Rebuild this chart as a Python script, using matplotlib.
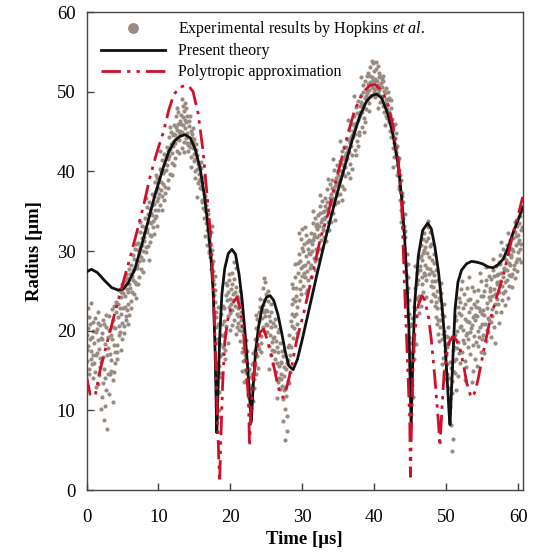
import numpy as np
import matplotlib
matplotlib.use("Agg")
import matplotlib.pyplot as plt

plt.rcParams['font.family'] = ['Liberation Serif', 'DejaVu Serif']
plt.rcParams['mathtext.fontset'] = 'custom'
plt.rcParams['mathtext.rm'] = 'Liberation Serif'
plt.rcParams['mathtext.it'] = 'Liberation Serif:italic'

########### data ###########

# present theory (black)
theory_t = [0.0, 0.7, 1.5, 2.5, 3.5, 4.4, 5.1, 5.8, 6.7, 7.5, 8.4, 9.5, 10.7, 11.5, 12.3,
            13.0, 13.7, 14.4, 15.1, 15.8, 16.4, 16.9, 17.3, 17.6, 17.85, 18.0, 18.1, 18.25,
            18.5, 18.8, 19.2, 19.7, 20.2, 20.7, 21.2, 21.6, 22.0, 22.3, 22.6, 22.9, 23.15,
            23.5, 23.9, 24.4, 25.0, 25.5, 26.0, 26.6, 27.1, 27.6, 28.1, 28.7, 29.3, 30.0,
            31.0, 32.0, 33.0, 34.0, 35.0, 36.0, 37.0, 38.0, 38.9, 39.6, 40.3, 41.0, 41.9,
            42.6, 43.3, 43.8, 44.2, 44.5, 44.8, 45.1, 45.35, 45.6, 46.1, 46.7, 47.4, 47.9,
            48.4, 48.9, 49.4, 49.8, 50.1, 50.35, 50.5, 50.75, 51.2, 51.6, 52.1, 52.8, 53.5,
            54.2, 55.0, 55.8, 56.5, 57.2, 57.9, 58.6, 59.3, 60.0, 60.6]
theory_r = [27.4, 27.7, 27.3, 26.3, 25.4, 25.1, 25.2, 26.0, 27.7, 30.2, 33.2, 37.0, 40.6, 42.6, 43.9,
            44.4, 44.6, 44.2, 42.8, 40.3, 36.8, 33.0, 29.0, 24.8, 18.0, 11.5, 7.2, 12.0,
            19.0, 24.5, 27.8, 29.7, 30.2, 29.6, 27.0, 24.0, 20.0, 16.5, 12.5, 8.6, 13.0,
            17.5, 20.5, 22.9, 24.2, 24.4, 23.8, 22.0, 19.8, 17.4, 15.6, 15.1, 16.4, 19.0,
            23.0, 27.0, 30.8, 34.4, 37.8, 41.0, 44.2, 47.0, 48.8, 49.5, 49.7, 49.2, 47.1,
            44.5, 40.8, 36.5, 31.5, 26.5, 20.0, 8.0, 17.0, 23.5, 29.4, 32.6, 33.5, 32.8,
            30.5, 27.4, 23.0, 18.5, 14.0, 10.0, 8.2, 13.5, 22.7, 26.1, 27.6, 28.4, 28.7,
            28.6, 28.4, 28.0, 27.9, 28.3, 29.0, 30.5, 32.4, 34.0, 35.5]

# polytropic approximation (red)
poly_t = [0.0, 0.5, 1.2, 1.9, 2.8, 3.7, 4.4, 5.1, 6.0, 7.0, 8.0, 8.8, 9.75, 10.7, 11.4,
          12.1, 12.9, 13.7, 14.3, 14.8, 15.5, 16.2, 16.7, 17.2, 17.5, 17.8, 18.1, 18.35,
          18.5, 18.65, 18.9, 19.2, 19.6, 20.2, 20.9, 21.4, 21.8, 22.2, 22.5, 22.65, 22.85,
          23.1, 23.4, 23.8, 24.1, 24.6, 25.1, 25.7, 26.2, 26.6, 27.0, 27.3, 27.8, 28.5,
          29.2, 30.3, 31.5, 32.5, 33.6, 34.5, 35.5, 36.4, 37.2, 38.0, 38.7, 39.4, 40.1,
          40.8, 41.4, 41.9, 42.6, 43.3, 43.8, 44.2, 44.6, 44.9, 45.0, 45.15, 45.35, 45.6,
          46.1, 46.6, 47.0, 47.5, 47.9, 48.4, 48.9, 49.1, 49.4, 49.7, 50.0, 50.4, 50.9,
          51.4, 51.9, 52.4, 52.8, 53.3, 53.6, 54.0, 54.4, 55.2, 56.0, 56.9, 57.9, 58.6,
          59.3, 60.0, 60.6]
poly_r = [14.3, 12.0, 11.8, 15.1, 18.3, 21.4, 23.8, 26.1, 29.0, 32.4, 36.0, 39.2, 42.3, 45.0, 47.6,
          49.6, 50.5, 50.8, 50.6, 50.0, 47.3, 42.5, 37.5, 32.4, 27.5, 20.6, 12.0, 4.5,
          1.0, 6.0, 13.0, 18.5, 21.3, 23.3, 24.2, 22.6, 19.8, 15.5, 11.3, 5.5, 10.0,
          13.5, 15.5, 18.3, 19.8, 20.2, 18.9, 16.8, 14.8, 13.0, 12.0, 11.6, 12.8, 15.5,
          18.8, 22.7, 27.5, 31.6, 34.8, 38.3, 41.8, 45.0, 47.5, 49.2, 50.2, 50.8, 50.9,
          50.3, 49.4, 48.3, 45.6, 41.6, 35.5, 25.2, 16.0, 9.0, 1.7, 8.0, 15.0, 19.8,
          23.2, 24.4, 23.8, 21.8, 18.9, 14.0, 8.4, 5.5, 10.5, 15.0, 16.8, 18.6, 19.3,
          18.8, 17.7, 15.6, 13.5, 12.0, 11.6, 12.4, 13.9, 17.6, 21.1, 24.0, 26.9, 29.6,
          32.4, 34.6, 36.8]

# experimental results by Hopkins et al. (grey dots)
exp_time = [
    0.04, 0.11, 0.18, 0.27, 0.35, 0.46, 0.58, 0.66, 0.79, 0.92,
    0.08, 0.22, 0.31, 0.41, 0.53, 0.62, 0.71, 0.84, 0.88, 0.97,
    1.03, 1.14, 1.22, 1.36, 1.44, 1.57, 1.65, 1.78, 1.86, 1.95,
    1.09, 1.27, 1.48, 1.61, 1.72, 1.90, 1.31, 1.53, 1.82, 1.99,
    2.05, 2.13, 2.24, 2.32, 2.47, 2.55, 2.68, 2.76, 2.87, 2.96,
    2.09, 2.28, 2.41, 2.61, 2.72, 2.93, 2.37, 2.82, 2.18, 2.52,
    3.04, 3.15, 3.23, 3.38, 3.46, 3.59, 3.67, 3.74, 3.88, 3.97,
    3.10, 3.29, 3.51, 3.63, 3.81, 3.93, 3.44, 3.19, 3.70, 3.85,
    4.02, 4.13, 4.26, 4.34, 4.45, 4.57, 4.63, 4.76, 4.85, 4.96,
    4.08, 4.20, 4.39, 4.51, 4.69, 4.81, 4.91, 4.30, 4.73, 4.98,
    5.05, 5.12, 5.24, 5.36, 5.43, 5.55, 5.68, 5.74, 5.87, 5.94,
    5.09, 5.29, 5.48, 5.61, 5.79, 5.91, 5.18, 5.40, 5.66, 5.83,
    6.03, 6.15, 6.22, 6.37, 6.44, 6.56, 6.63, 6.78, 6.86, 6.95,
    6.09, 6.30, 6.49, 6.70, 6.90, 6.19, 6.58, 6.82, 6.41, 6.99,
    7.04, 7.16, 7.25, 7.33, 7.47, 7.54, 7.69, 7.77, 7.84, 7.93,
    7.10, 7.29, 7.40, 7.61, 7.72, 7.89, 7.20, 7.50, 7.81, 7.97,
    8.05, 8.14, 8.27, 8.35, 8.42, 8.58, 8.66, 8.73, 8.88, 8.96,
    8.09, 8.21, 8.47, 8.52, 8.79, 8.92, 8.31, 8.62, 8.84, 8.99,
    9.03, 9.12, 9.26, 9.38, 9.45, 9.57, 9.64, 9.76, 9.83, 9.94,
    9.08, 9.19, 9.33, 9.51, 9.70, 9.88, 9.41, 9.61, 9.80, 9.98,
    10.04, 10.15, 10.23, 10.34, 10.46, 10.55, 10.67, 10.75, 10.86, 10.95,
    10.09, 10.28, 10.40, 10.61, 10.80, 10.91, 10.18, 10.50, 10.71, 10.99,
    11.03, 11.14, 11.26, 11.35, 11.44, 11.56, 11.65, 11.77, 11.85, 11.96,
    11.08, 11.21, 11.39, 11.51, 11.70, 11.90, 11.30, 11.60, 11.81, 11.99,
    12.05, 12.13, 12.24, 12.36, 12.43, 12.57, 12.64, 12.76, 12.87, 12.94,
    12.09, 12.29, 12.48, 12.61, 12.70, 12.83, 12.19, 12.52, 12.79, 12.98,
    13.04, 13.15, 13.22, 13.37, 13.45, 13.56, 13.63, 13.74, 13.88, 13.95,
    13.09, 13.28, 13.41, 13.51, 13.68, 13.82, 13.31, 13.60, 13.79, 13.99,
    14.03, 14.14, 14.26, 14.35, 14.47, 14.55, 14.66, 14.77, 14.84, 14.96,
    14.08, 14.21, 14.40, 14.60, 14.72, 14.90, 14.31, 14.51, 14.81, 14.99,
    15.05, 15.13, 15.24, 15.37, 15.44, 15.56, 15.65, 15.76, 15.87, 15.95,
    15.09, 15.29, 15.48, 15.60, 15.70, 15.82, 15.19, 15.40, 15.91, 15.99,
    16.04, 16.15, 16.23, 16.34, 16.46, 16.55, 16.67, 16.74, 16.86, 16.95,
    16.09, 16.28, 16.40, 16.60, 16.79, 16.91, 16.19, 16.51, 16.70, 16.99,
    17.03, 17.14, 17.25, 17.36, 17.43, 17.55, 17.64, 17.77, 17.85, 17.96,
    17.08, 17.20, 17.31, 17.48, 17.60, 17.70, 17.81, 17.90, 17.40, 17.99,
    18.04, 18.13, 18.22, 18.35, 18.46, 18.54, 18.66, 18.75, 18.84, 18.95,
    18.08, 18.27, 18.40, 18.59, 18.70, 18.90, 18.18, 18.31, 18.50, 18.80,
    19.05, 19.12, 19.24, 19.35, 19.43, 19.57, 19.64, 19.75, 19.86, 19.94,
    19.09, 19.28, 19.48, 19.60, 19.71, 19.90, 19.18, 19.39, 19.81, 19.99,
    20.04, 20.15, 20.23, 20.36, 20.44, 20.56, 20.65, 20.74, 20.87, 20.96,
    20.09, 20.28, 20.49, 20.61, 20.79, 20.91, 20.19, 20.40, 20.70, 20.99,
    21.03, 21.14, 21.26, 21.35, 21.45, 21.56, 21.64, 21.75, 21.84, 21.95,
    21.08, 21.21, 21.40, 21.51, 21.69, 21.80, 21.90, 21.30, 21.60, 21.99,
    22.05, 22.13, 22.24, 22.37, 22.43, 22.55, 22.66, 22.74, 22.86, 22.95,
    22.09, 22.29, 22.48, 22.61, 22.70, 22.81, 22.91, 22.19, 22.52, 22.99,
    23.04, 23.15, 23.23, 23.34, 23.46, 23.55, 23.67, 23.75, 23.86, 23.94,
    23.09, 23.28, 23.40, 23.60, 23.71, 23.90, 23.18, 23.51, 23.81, 23.99,
    24.03, 24.14, 24.26, 24.35, 24.45, 24.56, 24.64, 24.75, 24.84, 24.95,
    24.08, 24.21, 24.40, 24.51, 24.69, 24.80, 24.90, 24.31, 24.60, 24.99,
    25.05, 25.13, 25.24, 25.36, 25.44, 25.57, 25.65, 25.74, 25.87, 25.96,
    25.09, 25.29, 25.48, 25.60, 25.79, 25.91, 25.19, 25.40, 25.70, 25.99,
    26.04, 26.15, 26.23, 26.34, 26.46, 26.55, 26.66, 26.74, 26.85, 26.96,
    26.09, 26.28, 26.40, 26.60, 26.79, 26.90, 26.19, 26.50, 26.70, 26.99,
    27.03, 27.14, 27.25, 27.35, 27.43, 27.55, 27.64, 27.76, 27.85, 27.94,
    27.08, 27.20, 27.39, 27.50, 27.69, 27.80, 27.90, 27.30, 27.60, 27.99,
    28.05, 28.13, 28.24, 28.37, 28.44, 28.56, 28.65, 28.74, 28.86, 28.95,
    28.09, 28.29, 28.48, 28.61, 28.70, 28.81, 28.91, 28.19, 28.52, 28.99,
    29.04, 29.15, 29.23, 29.34, 29.46, 29.55, 29.67, 29.75, 29.84, 29.96,
    29.09, 29.28, 29.40, 29.60, 29.71, 29.90, 29.18, 29.50, 29.80, 29.99,
    30.03, 30.14, 30.26, 30.35, 30.45, 30.56, 30.64, 30.75, 30.84, 30.95,
    30.08, 30.21, 30.40, 30.51, 30.69, 30.80, 30.90, 30.31, 30.60, 30.99,
    31.05, 31.13, 31.24, 31.36, 31.44, 31.57, 31.65, 31.74, 31.87, 31.96,
    31.09, 31.29, 31.48, 31.60, 31.79, 31.91, 31.19, 31.40, 31.70, 31.99,
    32.04, 32.15, 32.23, 32.34, 32.46, 32.55, 32.66, 32.74, 32.85, 32.96,
    32.09, 32.28, 32.40, 32.60, 32.79, 32.90, 32.19, 32.50, 32.70, 32.99,
    33.03, 33.14, 33.25, 33.35, 33.43, 33.55, 33.64, 33.76, 33.85, 33.94,
    33.08, 33.20, 33.39, 33.50, 33.69, 33.80, 33.90, 33.30, 33.60, 33.99,
    34.05, 34.13, 34.24, 34.37, 34.44, 34.56, 34.65, 34.74, 34.86, 34.95,
    34.09, 34.29, 34.48, 34.61, 34.70, 34.81, 34.91, 34.19, 34.52, 34.99,
    35.04, 35.15, 35.23, 35.34, 35.46, 35.55, 35.67, 35.75, 35.86, 35.96,
    35.09, 35.28, 35.40, 35.60, 35.71, 35.90, 35.18, 35.50, 35.80, 35.99,
    36.03, 36.14, 36.26, 36.35, 36.45, 36.56, 36.64, 36.75, 36.84, 36.95,
    36.08, 36.21, 36.40, 36.51, 36.69, 36.80, 36.90, 36.31, 36.60, 36.99,
    37.05, 37.13, 37.24, 37.36, 37.44, 37.57, 37.65, 37.74, 37.87, 37.96,
    37.09, 37.29, 37.48, 37.60, 37.79, 37.91, 37.19, 37.40, 37.70, 37.99,
    38.04, 38.15, 38.23, 38.34, 38.46, 38.55, 38.66, 38.74, 38.85, 38.96,
    38.09, 38.28, 38.40, 38.60, 38.79, 38.90, 38.19, 38.50, 38.70, 38.99,
    39.03, 39.14, 39.25, 39.35, 39.43, 39.55, 39.64, 39.76, 39.85, 39.94,
    39.08, 39.20, 39.39, 39.50, 39.69, 39.80, 39.90, 39.30, 39.60, 39.99,
    40.05, 40.13, 40.24, 40.37, 40.44, 40.56, 40.65, 40.74, 40.86, 40.95,
    40.09, 40.29, 40.48, 40.61, 40.70, 40.81, 40.91, 40.19, 40.52, 40.99,
    41.04, 41.15, 41.23, 41.34, 41.46, 41.55, 41.67, 41.74, 41.85, 41.96,
    41.09, 41.28, 41.40, 41.60, 41.71, 41.90, 41.18, 41.50, 41.80, 41.99,
    42.03, 42.14, 42.26, 42.35, 42.45, 42.56, 42.64, 42.75, 42.84, 42.95,
    42.08, 42.21, 42.40, 42.51, 42.69, 42.80, 42.90, 42.31, 42.60, 42.99,
    43.05, 43.13, 43.24, 43.36, 43.44, 43.57, 43.65, 43.74, 43.87, 43.96,
    43.09, 43.29, 43.48, 43.60, 43.79, 43.91, 43.19, 43.40, 43.70, 43.99,
    44.04, 44.15, 44.23, 44.34, 44.46, 44.55, 44.67, 44.75, 44.86, 44.95,
    44.09, 44.28, 44.40, 44.60, 44.71, 44.90, 44.18, 44.50, 44.80, 44.99,
    45.03, 45.14, 45.25, 45.35, 45.43, 45.55, 45.64, 45.76, 45.85, 45.94,
    45.08, 45.20, 45.39, 45.50, 45.69, 45.80, 45.90, 45.30, 45.60, 45.99,
    46.05, 46.13, 46.24, 46.37, 46.44, 46.56, 46.65, 46.74, 46.86, 46.95,
    46.09, 46.29, 46.48, 46.61, 46.70, 46.81, 46.91, 46.19, 46.52, 46.99,
    47.04, 47.15, 47.23, 47.34, 47.46, 47.55, 47.67, 47.75, 47.86, 47.96,
    47.09, 47.28, 47.40, 47.60, 47.71, 47.90, 47.18, 47.50, 47.80, 47.99,
    48.03, 48.14, 48.26, 48.35, 48.45, 48.56, 48.64, 48.75, 48.84, 48.95,
    48.08, 48.21, 48.40, 48.51, 48.69, 48.80, 48.90, 48.31, 48.60, 48.99,
    49.05, 49.13, 49.24, 49.36, 49.44, 49.57, 49.65, 49.74, 49.87, 49.96,
    49.09, 49.29, 49.48, 49.60, 49.79, 49.91, 49.19, 49.40, 49.70, 49.99,
    50.04, 50.15, 50.23, 50.34, 50.46, 50.55, 50.67, 50.74, 50.85, 50.96,
    50.09, 50.28, 50.40, 50.60, 50.71, 50.90, 50.18, 50.50, 50.80, 50.99,
    51.03, 51.14, 51.25, 51.35, 51.43, 51.55, 51.64, 51.76, 51.85, 51.94,
    51.08, 51.20, 51.39, 51.50, 51.69, 51.80, 51.90, 51.30, 51.60, 51.99,
    52.05, 52.13, 52.24, 52.37, 52.44, 52.56, 52.65, 52.74, 52.86, 52.95,
    52.09, 52.29, 52.48, 52.61, 52.70, 52.81, 52.91, 52.19, 52.52, 52.99,
    53.04, 53.15, 53.23, 53.34, 53.46, 53.55, 53.67, 53.75, 53.86, 53.96,
    53.09, 53.28, 53.40, 53.60, 53.71, 53.90, 53.18, 53.50, 53.80, 53.99,
    54.03, 54.14, 54.26, 54.35, 54.45, 54.56, 54.64, 54.75, 54.84, 54.95,
    54.08, 54.21, 54.40, 54.51, 54.69, 54.80, 54.90, 54.31, 54.60, 54.99,
    55.05, 55.13, 55.24, 55.37, 55.44, 55.56, 55.65, 55.74, 55.86, 55.96,
    55.09, 55.29, 55.48, 55.61, 55.70, 55.81, 55.91, 55.19, 55.52, 55.99,
    56.04, 56.15, 56.23, 56.34, 56.46, 56.55, 56.67, 56.74, 56.85, 56.96,
    56.09, 56.28, 56.40, 56.60, 56.79, 56.90, 56.18, 56.50, 56.70, 56.99,
    57.03, 57.14, 57.25, 57.35, 57.43, 57.55, 57.64, 57.76, 57.85, 57.94,
    57.08, 57.20, 57.39, 57.50, 57.69, 57.80, 57.90, 57.30, 57.60, 57.99,
    58.05, 58.13, 58.24, 58.37, 58.44, 58.56, 58.65, 58.74, 58.86, 58.95,
    58.09, 58.29, 58.48, 58.61, 58.70, 58.81, 58.91, 58.19, 58.52, 58.99,
    59.04, 59.15, 59.23, 59.34, 59.46, 59.55, 59.67, 59.75, 59.86, 59.96,
    59.09, 59.28, 59.40, 59.60, 59.71, 59.90, 59.18, 59.50, 59.80, 59.99,
    60.03, 60.09, 60.14, 60.20, 60.26, 60.31, 60.37, 60.43, 60.48, 60.55,
]
exp_radius = [
    19.5, 16.2, 22.8, 18.1, 14.6, 20.9, 17.4, 23.5, 15.8, 19.9,
    17.6, 20.3, 15.2, 21.7, 18.9, 16.4, 19.2, 21.1, 17.0, 14.1,
    18.4, 21.6, 14.8, 16.9, 20.2, 13.3, 22.4, 17.7, 15.5, 19.1,
    15.9, 19.8, 17.2, 21.0, 14.4, 16.6, 12.9, 18.8, 20.7, 10.2,
    16.1, 19.7, 13.4, 21.3, 15.2, 18.3, 12.6, 20.4, 17.0, 14.5,
    18.9, 16.7, 20.9, 14.1, 22.0, 19.2, 8.8, 7.6, 11.7, 10.5,
    17.8, 21.9, 14.6, 19.4, 16.3, 22.7, 13.8, 20.5, 18.2, 15.9,
    20.1, 17.1, 19.0, 21.4, 23.1, 17.3, 15.0, 12.1, 11.0, 14.8,
    20.3, 23.6, 18.2, 21.7, 25.1, 19.4, 22.9, 17.6, 24.2, 21.0,
    22.4, 17.3, 23.4, 20.6, 19.8, 22.1, 25.9, 16.4, 24.8, 18.9,
    22.8, 25.9, 20.6, 24.3, 27.1, 21.9, 25.2, 23.4, 27.8, 22.0,
    24.7, 23.0, 21.4, 26.6, 24.9, 25.8, 19.7, 26.2, 22.6, 20.8,
    25.4, 28.3, 23.7, 26.9, 29.5, 24.6, 27.8, 30.2, 25.9, 28.7,
    27.1, 24.8, 27.5, 26.1, 30.9, 22.9, 29.0, 24.1, 26.3, 27.9,
    28.2, 31.0, 26.7, 29.6, 32.4, 27.8, 30.7, 33.1, 28.9, 31.8,
    30.1, 28.8, 30.5, 29.2, 31.6, 30.0, 25.8, 33.6, 27.4, 32.2,
    31.2, 34.1, 29.9, 32.8, 35.5, 30.6, 33.7, 36.2, 32.0, 34.8,
    33.0, 30.5, 32.4, 34.6, 31.1, 33.5, 36.7, 28.9, 35.3, 31.9,
    34.5, 37.2, 33.0, 35.9, 38.6, 34.1, 37.5, 36.3, 39.2, 35.1,
    35.8, 33.8, 36.9, 35.2, 34.4, 37.9, 32.1, 39.6, 33.2, 36.6,
    37.1, 40.3, 35.8, 38.7, 41.4, 36.9, 39.8, 42.2, 38.0, 40.9,
    39.2, 37.6, 39.9, 38.4, 40.1, 37.3, 42.6, 35.1, 36.4, 41.7,
    40.2, 43.1, 38.9, 41.6, 44.3, 39.7, 42.8, 45.0, 41.0, 43.7,
    42.0, 40.8, 42.5, 41.9, 43.4, 42.3, 37.9, 45.6, 39.5, 44.6,
    43.2, 45.8, 41.7, 44.5, 46.9, 42.6, 45.2, 47.4, 43.9, 46.3,
    44.7, 43.5, 45.6, 44.1, 46.0, 44.9, 40.8, 48.0, 42.3, 45.1,
    44.6, 47.1, 42.9, 45.8, 48.2, 43.7, 46.5, 48.6, 44.2, 47.0,
    46.0, 44.9, 46.8, 47.6, 45.4, 46.2, 49.1, 42.4, 47.9, 43.5,
    44.8, 42.5, 46.3, 43.6, 45.1, 41.8, 44.2, 42.9, 45.4, 41.3,
    43.3, 45.7, 43.0, 44.7, 43.9, 42.2, 47.0, 40.6, 43.7, 44.0,
    41.6, 39.2, 42.7, 40.3, 38.5, 41.1, 39.7, 37.9, 40.4, 38.2,
    40.0, 42.1, 40.9, 38.8, 40.6, 39.0, 43.4, 36.8, 41.2, 36.4,
    37.8, 35.4, 38.6, 34.2, 36.9, 33.5, 35.8, 32.6, 34.7, 31.4,
    36.2, 37.1, 35.0, 36.4, 33.9, 33.0, 39.3, 31.9, 30.8, 29.8,
    31.6, 29.2, 32.4, 27.8, 30.1, 26.3, 28.7, 24.5, 26.9, 22.3,
    30.0, 31.0, 29.6, 28.4, 27.5, 25.8, 23.6, 25.1, 33.2, 20.4,
    21.7, 18.4, 23.0, 15.6, 12.3, 16.8, 19.5, 14.2, 20.8, 17.9,
    19.0, 20.9, 10.1, 14.7, 22.1, 23.1, 16.0, 9.2, 18.3, 17.1,
    19.3, 22.8, 17.6, 24.5, 20.6, 25.7, 21.9, 26.4, 23.0, 20.1,
    21.2, 19.7, 23.8, 18.4, 24.9, 22.2, 16.5, 26.0, 27.1, 24.0,
    25.2, 22.6, 27.3, 23.9, 26.5, 21.4, 24.8, 27.9, 22.1, 24.3,
    23.3, 25.8, 28.6, 23.1, 25.5, 20.5, 20.7, 24.6, 19.6, 21.8,
    22.8, 20.1, 23.6, 18.7, 21.4, 17.3, 19.9, 16.2, 18.5, 15.1,
    21.0, 24.1, 20.6, 22.3, 17.8, 20.4, 13.6, 25.0, 14.9, 17.0,
    16.4, 13.8, 17.5, 12.1, 14.9, 10.6, 12.8, 9.4, 11.7, 13.2,
    14.7, 15.9, 13.3, 15.2, 8.5, 14.2, 10.3, 18.8, 11.5, 15.8,
    14.6, 17.2, 12.8, 18.9, 15.7, 20.3, 16.8, 21.5, 18.1, 19.4,
    16.0, 13.9, 17.6, 14.5, 19.0, 22.4, 11.2, 22.0, 15.3, 17.7,
    21.2, 24.0, 19.3, 22.7, 25.4, 20.5, 23.8, 26.1, 21.9, 24.6,
    23.0, 18.4, 21.6, 23.2, 22.3, 19.8, 20.9, 17.3, 26.6, 22.6,
    22.5, 19.8, 23.7, 18.1, 21.2, 16.9, 20.4, 17.6, 19.1, 15.8,
    20.7, 21.9, 19.5, 22.4, 18.6, 21.0, 25.0, 15.2, 23.4, 17.4,
    19.2, 16.4, 20.6, 14.8, 18.0, 13.5, 17.3, 15.6, 12.7, 16.1,
    17.5, 18.7, 15.9, 19.8, 14.1, 18.4, 21.5, 11.6, 20.2, 13.9,
    15.9, 13.1, 16.8, 11.4, 14.3, 10.2, 12.9, 15.2, 9.3, 13.7,
    14.6, 17.4, 12.5, 15.5, 11.8, 7.4, 16.0, 8.6, 6.3, 17.9,
    16.3, 19.5, 14.8, 21.2, 17.9, 23.4, 19.1, 25.3, 21.8, 26.7,
    18.2, 16.9, 20.6, 22.1, 24.0, 20.3, 23.7, 13.4, 25.9, 28.4,
    22.1, 25.4, 20.8, 27.3, 23.9, 29.6, 26.2, 31.5, 27.9, 30.4,
    24.4, 23.0, 28.5, 25.2, 28.8, 26.9, 19.7, 32.2, 24.6, 32.8,
    28.1, 25.6, 30.9, 26.8, 29.4, 32.0, 27.5, 30.2, 28.6, 31.4,
    30.0, 27.2, 28.3, 24.7, 31.1, 26.4, 29.8, 33.0, 25.1, 27.9,
    29.6, 32.3, 28.2, 30.9, 33.5, 29.1, 31.7, 34.2, 30.3, 32.8,
    31.2, 30.0, 31.4, 32.1, 28.7, 33.1, 26.8, 35.0, 27.6, 29.9,
    31.8, 34.5, 30.2, 33.1, 35.7, 31.4, 34.0, 36.3, 32.6, 35.0,
    33.4, 32.0, 34.8, 33.6, 34.9, 33.0, 29.0, 37.0, 30.4, 31.7,
    34.0, 36.6, 32.5, 35.3, 37.8, 33.7, 36.1, 38.4, 34.8, 37.2,
    35.6, 34.3, 36.2, 35.0, 32.6, 36.7, 35.9, 31.2, 39.0, 33.6,
    36.3, 38.9, 34.8, 37.6, 40.2, 35.9, 38.4, 40.8, 37.0, 39.5,
    37.9, 36.7, 38.1, 37.3, 39.2, 38.7, 36.1, 41.5, 33.9, 40.0,
    38.6, 41.3, 37.1, 40.0, 42.5, 38.2, 40.8, 43.1, 39.4, 41.9,
    40.2, 39.0, 41.0, 39.7, 41.6, 40.5, 43.8, 36.4, 37.8, 42.3,
    41.4, 44.0, 39.8, 42.7, 45.2, 40.9, 43.5, 45.9, 42.1, 44.6,
    43.0, 41.7, 43.9, 42.4, 44.3, 43.2, 40.3, 46.5, 39.2, 45.1,
    44.3, 46.9, 42.7, 45.6, 48.1, 43.8, 46.4, 48.8, 45.0, 47.5,
    45.9, 44.7, 46.1, 47.3, 44.5, 46.8, 49.4, 42.0, 43.2, 48.2,
    47.1, 49.6, 45.6, 48.4, 50.8, 46.7, 49.2, 51.4, 47.8, 50.1,
    48.7, 47.5, 49.9, 48.0, 49.5, 48.9, 51.9, 44.9, 46.2, 52.0,
    49.8, 52.3, 48.6, 51.2, 53.1, 49.5, 51.9, 53.6, 50.4, 52.6,
    51.0, 50.2, 52.0, 50.9, 50.6, 51.5, 51.3, 47.6, 53.9, 49.9,
    51.6, 49.3, 52.8, 50.5, 53.2, 49.8, 51.9, 48.7, 51.1, 49.4,
    50.3, 51.4, 50.8, 52.3, 50.2, 52.0, 50.6, 53.7, 47.9, 51.6,
    50.6, 48.2, 51.3, 47.5, 49.8, 46.9, 49.1, 47.8, 50.0, 46.4,
    49.3, 50.1, 48.6, 50.4, 48.3, 48.9, 52.0, 45.8, 46.7, 49.2,
    47.4, 45.1, 48.0, 44.3, 46.6, 42.9, 45.7, 41.8, 44.2, 42.4,
    46.2, 47.1, 45.0, 45.9, 43.6, 46.0, 43.4, 49.0, 40.6, 44.8,
    42.1, 39.6, 41.3, 37.8, 40.2, 36.4, 38.9, 35.2, 37.3, 34.1,
    40.8, 39.9, 38.2, 39.6, 36.9, 36.2, 43.2, 41.7, 33.6, 32.8,
    33.1, 30.4, 31.8, 28.2, 29.6, 24.9, 26.8, 22.1, 23.9, 17.2,
    29.7, 32.5, 27.1, 28.4, 25.3, 20.6, 34.6, 23.5, 19.2, 14.8,
    18.5, 15.9, 21.6, 17.4, 23.0, 19.6, 25.3, 21.9, 27.2, 24.1,
    20.8, 13.2, 19.0, 16.5, 22.7, 18.3, 25.9, 11.7, 28.1, 27.6,
    26.4, 29.2, 24.3, 27.6, 30.7, 25.8, 28.9, 31.5, 27.3, 30.1,
    23.8, 28.1, 29.4, 26.7, 24.9, 29.8, 32.3, 22.2, 23.1, 27.0,
    28.3, 31.2, 26.4, 29.8, 33.0, 27.1, 30.6, 32.4, 25.6, 28.9,
    30.5, 27.9, 31.6, 29.2, 27.8, 30.9, 24.2, 33.8, 23.7, 26.2,
    27.4, 24.6, 28.5, 23.1, 26.2, 21.7, 25.0, 22.8, 19.6, 24.1,
    25.5, 27.0, 24.4, 27.6, 20.9, 26.4, 21.3, 29.6, 23.6, 18.7,
    23.8, 20.5, 24.7, 18.9, 22.1, 16.6, 20.0, 17.5, 15.1, 19.3,
    21.4, 22.8, 19.6, 21.9, 18.2, 13.9, 26.0, 15.8, 23.3, 16.9,
    17.9, 14.6, 19.2, 12.8, 16.1, 11.5, 15.3, 13.7, 17.6, 15.0,
    15.8, 18.4, 14.0, 8.1, 12.2, 6.4, 20.5, 10.4, 4.9, 19.1,
    16.2, 19.5, 14.7, 21.3, 17.8, 23.0, 18.6, 22.2, 15.9, 20.4,
    18.0, 21.8, 16.5, 19.9, 24.1, 17.2, 23.6, 12.6, 14.3, 25.2,
    20.6, 17.3, 22.9, 18.8, 24.6, 16.2, 21.5, 19.4, 25.3, 17.9,
    22.0, 20.1, 18.5, 23.4, 15.4, 21.2, 19.7, 26.2, 13.8, 23.9,
    19.0, 22.4, 17.1, 24.0, 20.3, 25.5, 18.2, 21.7, 23.3, 16.4,
    21.1, 19.8, 22.8, 20.7, 14.9, 25.0, 26.8, 13.5, 19.3, 22.0,
    21.4, 18.6, 23.7, 20.0, 25.1, 19.2, 22.5, 17.3, 24.3, 20.8,
    23.0, 21.9, 18.1, 22.9, 20.4, 26.2, 22.1, 15.6, 27.3, 18.9,
    22.6, 19.4, 25.0, 20.9, 26.3, 18.7, 23.5, 21.6, 26.9, 24.2,
    24.4, 22.0, 25.7, 20.1, 22.9, 19.8, 21.3, 17.2, 28.0, 25.4,
    23.9, 21.1, 26.5, 22.7, 27.6, 20.4, 25.2, 23.3, 28.1, 25.8,
    25.0, 24.3, 21.9, 26.9, 24.6, 22.4, 19.2, 29.0, 18.5, 27.0,
    26.1, 23.4, 28.6, 24.9, 29.5, 22.3, 27.3, 25.6, 30.2, 27.9,
    24.0, 27.1, 26.2, 28.4, 23.8, 26.8, 24.7, 21.0, 31.1, 29.3,
    27.7, 25.0, 29.9, 26.4, 30.8, 24.1, 28.5, 27.0, 31.4, 29.2,
    26.1, 28.9, 27.6, 29.8, 25.6, 28.2, 30.3, 23.2, 32.3, 26.9,
    29.5, 27.1, 31.6, 28.3, 32.4, 26.6, 30.7, 29.0, 33.2, 31.0,
    30.2, 30.0, 27.8, 31.9, 28.6, 32.0, 25.5, 33.7, 27.5, 29.9,
    31.4, 29.0, 33.5, 30.3, 34.4, 28.6, 32.6, 30.9, 35.0, 33.0,
]

x_ticks = [0, 10, 20, 30, 40, 50, 60]
y_ticks = [0, 10, 20, 30, 40, 50, 60]

assert len(exp_time) == len(exp_radius)
assert len(theory_t) == len(theory_r)
assert len(poly_t) == len(poly_r)

########### plot ###########

fig = plt.figure(figsize=(5.33, 5.53), dpi=100)
ax = fig.add_axes([0.1623, 0.1139, 0.8184, 0.8644])

ax.scatter(exp_time, exp_radius, s=9, color='#9a8b80', linewidths=0, zorder=1,
           label='Experimental results by Hopkins $\\it{et\\ al.}$')
ax.plot(theory_t, theory_r, color='#111111', lw=2.0, zorder=3, label='Present theory')
ax.plot(poly_t, poly_r, color='#d0102a', lw=2.0, zorder=4,
        linestyle=(0, (7, 2.2, 1.2, 2.2, 1.2, 2.2)), label='Polytropic approximation')

ax.set_xlim(0, 60.6)
ax.set_ylim(0, 60)
ax.set_xticks(x_ticks)
ax.set_yticks(y_ticks)
ax.tick_params(direction='in', length=5, width=1, labelsize=13.5, color='#444444',
               top=False, right=False)
ax.tick_params(axis='x', pad=14)
ax.tick_params(axis='y', pad=8)
for sp in ax.spines.values():
    sp.set_color('#444444')
    sp.set_linewidth(1.0)

ax.set_xlabel('Time [μs]', fontsize=13.5, fontweight='bold', labelpad=3)
ax.set_ylabel('Radius [μm]', fontsize=13.5, fontweight='bold', labelpad=10)

leg = ax.legend(loc='upper left', bbox_to_anchor=(0.005, 1.013), frameon=False,
                fontsize=11.5, handlelength=4.0, handletextpad=0.8,
                labelspacing=0.3, borderpad=0.3, markerscale=2.6, scatterpoints=1)

plt.savefig('out.png', dpi=100)
